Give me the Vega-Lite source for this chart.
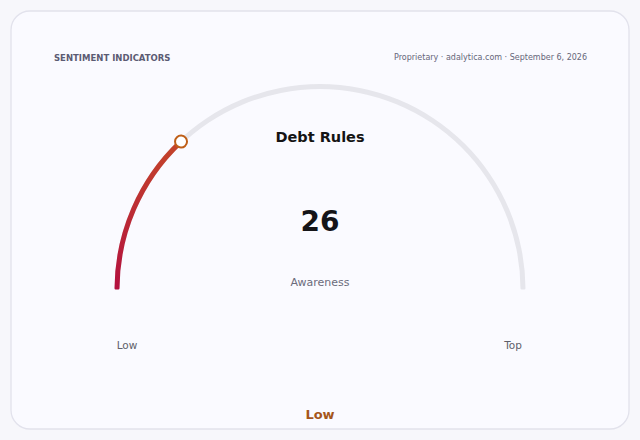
{
  "$schema": "https://vega.github.io/schema/vega-lite/v6.json",
  "width": 618,
  "height": 418,
  "autosize": "none",
  "padding": 11,
  "background": "#f7f7fb",
  "config": {
    "view": {"stroke": null},
    "font": "DejaVu Sans",
    "text": {"font": "DejaVu Sans"}
  },
  "data": {
    "values": [
      {
        "section": "SENTIMENT INDICATORS",
        "source": "Proprietary · adalytica.com · September 6, 2026",
        "indicator": "Debt Rules",
        "metric": "Awareness",
        "value": 26,
        "min": 0,
        "max": 100,
        "band": "Low",
        "min_label": "Low",
        "max_label": "Top"
      }
    ]
  },
  "layer": [
    {
      "mark": {
        "type": "rect",
        "x": 0,
        "y": 0,
        "x2": "width",
        "y2": "height",
        "cornerRadius": 19,
        "fill": "#fafaff",
        "stroke": "#e2e2ec",
        "strokeWidth": 1.3
      },
      "encoding": {}
    },
    {
      "mark": {
        "type": "arc",
        "radius": 205.5,
        "radius2": 200.5,
        "cornerRadius": 1.2,
        "fill": "#e6e6ec",
        "x": {"expr": "width / 2"},
        "y": {"expr": "height - 139.5"}
      },
      "encoding": {
        "theta": {
          "field": "min",
          "type": "quantitative",
          "stack": null,
          "scale": {"domain": [0, 100], "range": [-1.5707963, 1.5707963]}
        },
        "theta2": {"field": "max"}
      }
    },
    {
      "mark": {
        "type": "arc",
        "radius": 205.5,
        "radius2": 200.5,
        "cornerRadius": 1.2,
        "fill": {
          "gradient": "linear",
          "x1": 0, "y1": 1, "x2": 0, "y2": 0,
          "stops": [
            {"offset": 0, "color": "#b3103f"},
            {"offset": 1, "color": "#c4452a"}
          ]
        },
        "x": {"expr": "width / 2"},
        "y": {"expr": "height - 139.5"}
      },
      "encoding": {
        "theta": {"field": "min", "type": "quantitative", "stack": null},
        "theta2": {"field": "value"}
      }
    },
    {
      "mark": {
        "type": "arc",
        "radius": 209,
        "radius2": 197,
        "cornerRadius": 6,
        "thetaOffset": -0.0296,
        "theta2Offset": 0.0296,
        "fill": "#ffffff",
        "stroke": "#bf5f18",
        "strokeWidth": 2,
        "x": {"expr": "width / 2"},
        "y": {"expr": "height - 139.5"}
      },
      "encoding": {
        "theta": {"field": "value", "type": "quantitative", "stack": null},
        "theta2": {"field": "value"}
      }
    },
    {
      "mark": {"type": "text", "align": "left", "baseline": "middle", "x": 43, "y": 47, "fontSize": 8.5, "fontWeight": "bold", "color": "#5b5b73"},
      "encoding": {"text": {"field": "section"}}
    },
    {
      "mark": {"type": "text", "align": "right", "baseline": "middle", "x": {"expr": "width - 42"}, "y": 47, "fontSize": 8, "color": "#66667a"},
      "encoding": {"text": {"field": "source"}}
    },
    {
      "mark": {"type": "text", "align": "center", "baseline": "middle", "x": {"expr": "width / 2"}, "y": 127, "fontSize": 14.5, "fontWeight": "bold", "color": "#141414"},
      "encoding": {"text": {"field": "indicator"}}
    },
    {
      "mark": {"type": "text", "align": "center", "baseline": "middle", "x": {"expr": "width / 2"}, "y": 212, "fontSize": 28, "fontWeight": "bold", "color": "#141418"},
      "encoding": {"text": {"field": "value"}}
    },
    {
      "mark": {"type": "text", "align": "center", "baseline": "middle", "x": {"expr": "width / 2"}, "y": 272, "fontSize": 11, "color": "#6b6b7b"},
      "encoding": {"text": {"field": "metric"}}
    },
    {
      "mark": {"type": "text", "align": "center", "baseline": "middle", "x": {"expr": "width / 2"}, "y": {"expr": "height - 139.5"}, "radius": 203, "dx": 10, "dy": 56, "fontSize": 10.5, "color": "#5f5f6a"},
      "encoding": {
        "theta": {"field": "min", "type": "quantitative", "stack": null},
        "text": {"field": "min_label"}
      }
    },
    {
      "mark": {"type": "text", "align": "center", "baseline": "middle", "x": {"expr": "width / 2"}, "y": {"expr": "height - 139.5"}, "radius": 203, "dx": -10, "dy": 56, "fontSize": 10.5, "color": "#5f5f6a"},
      "encoding": {
        "theta": {"field": "max", "type": "quantitative", "stack": null},
        "text": {"field": "max_label"}
      }
    },
    {
      "mark": {"type": "text", "align": "center", "baseline": "middle", "x": {"expr": "width / 2"}, "y": {"expr": "height - 14"}, "fontSize": 13, "fontWeight": "bold", "color": "#a5561b"},
      "encoding": {"text": {"field": "band"}}
    }
  ]
}
